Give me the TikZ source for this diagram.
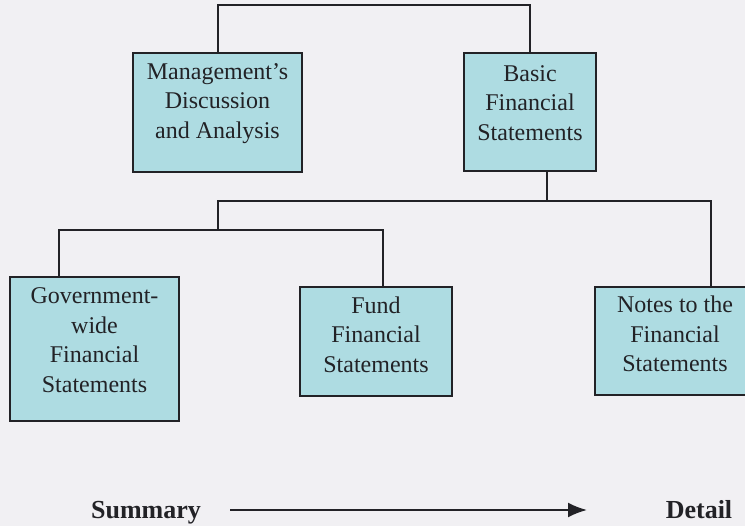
\documentclass[tikz,border=0pt]{standalone}
\usepackage{fontspec}
\setmainfont{Liberation Serif}
\usetikzlibrary{arrows.meta}
\definecolor{boxfill}{RGB}{174,220,226}
\definecolor{paper}{RGB}{241,240,243}
\definecolor{ink}{RGB}{34,34,38}
\tikzset{
  fsbox/.style={draw=ink, fill=boxfill, line width=1.8pt, inner sep=0pt},
  fstext/.style={align=center, inner sep=0pt, font=\fontsize{24}{29.5}\selectfont, text=ink},
  tree/.style={draw=ink, line width=2pt},
  scale label/.style={font=\fontsize{26}{30}\selectfont\bfseries, text=ink, anchor=base}
}
\begin{document}
\begin{tikzpicture}[x=1pt,y=-1pt]
	\useasboundingbox[fill=paper] (0,0) rectangle (745,526);
	
	% Define the boxes
	\node[fsbox, minimum width=169pt, minimum height=119pt] (mda) at (217.5,112.5) {};
	\node[fsbox, minimum width=132pt, minimum height=118pt] (bfs) at (530,112) {};
	\node[fsbox, minimum width=169pt, minimum height=144pt] (gov) at (94.5,349) {};
	\node[fsbox, minimum width=152pt, minimum height=109pt] (fund) at (376,341.5) {};
	\node[fsbox, minimum width=160pt, minimum height=108pt] (notes) at (675,341) {};
	
	% Texts in the boxes
	\node[fstext] (mdatext) at ([yshift=9pt]mda.center) {Management's\\Discussion\\and Analysis};
	\node[fstext] (bfstext) at ([yshift=9pt]bfs.center) {Basic\\Financial\\Statements};
	\node[fstext] (govtext) at ([yshift=9pt]gov.center) {Government-\\wide\\Financial\\Statements};
	\node[fstext] (fundtext) at ([yshift=7pt]fund.center) {Fund\\Financial\\Statements};
	\node[fstext] (notestext) at ([yshift=7pt]notes.center) {Notes to the\\Financial\\Statements};
	
	% Points where the lines turn
	\coordinate (top) at (0,5);
	\coordinate (bus) at (547,201);
	\coordinate (jn) at (218,201);
	\coordinate (ndrop) at (711,201);
	\coordinate (gdrop) at (59,230);
	\coordinate (fdrop) at (383,230);
	
	% Draw the tree
	\draw[tree] (mda.north) -- (mda.north |- top) -| (bfs.north);
	\draw[tree] (bfs.south -| bus) -- (bus);
	\draw[tree] (ndrop |- notes.north) -- (ndrop) -- (jn) -- (jn |- gdrop);
	\draw[tree] (gdrop |- gov.north) -- (gdrop) -- (fdrop) -- (fdrop |- fund.north);
	
	% Summary to detail
	\node[scale label] (summary) at (146,519) {Summary};
	\node[scale label] (detail) at (699,519) {Detail};
	\coordinate (arrowend) at (587,510);
	\draw[draw=ink, line width=2pt, -{Latex[length=19pt,width=15pt]}] (summary.east |- arrowend) ++(26,0) -- (arrowend);
\end{tikzpicture}
\end{document}
